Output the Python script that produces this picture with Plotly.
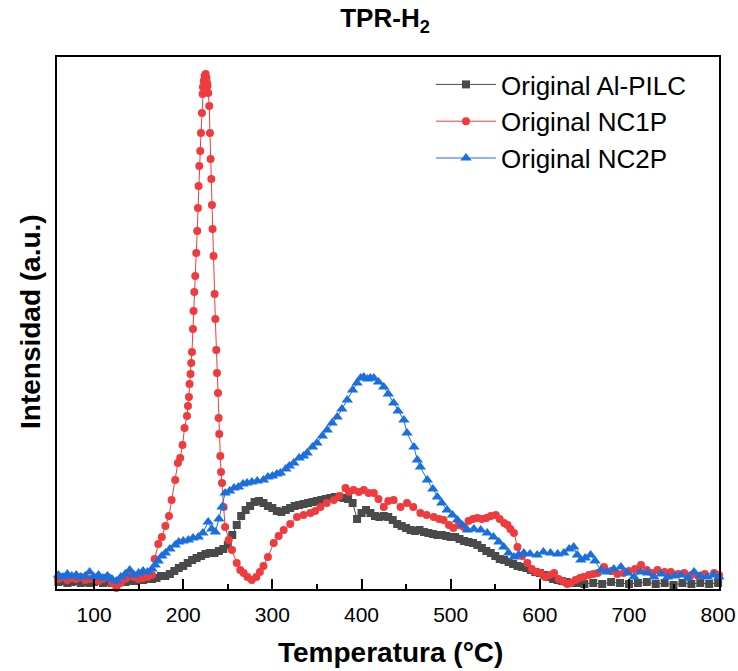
import plotly.graph_objects as go

# --- TPR-H2 profiles (temperature in °C, H2 consumption in a.u.) ---

temp_alpilc = [60, 65, 70, 75, 80, 85, 90, 95, 100, 105, 110, 115, 120, 125, 130, 135, 140, 145,
               150, 155, 160, 165, 170, 175, 180, 185, 190, 195, 200, 205, 210, 215, 220, 225,
               230, 235, 240, 245, 250, 255, 260, 265, 270, 275, 280, 285, 290, 295, 300, 305,
               310, 315, 320, 325, 330, 335, 340, 345, 350, 355, 360, 365, 370, 375, 380, 385,
               390, 395, 400, 405, 410, 415, 420, 425, 430, 435, 440, 445, 450, 455, 460, 465,
               470, 475, 480, 485, 490, 495, 500, 505, 510, 515, 520, 525, 530, 535, 540, 545,
               550, 555, 560, 565, 570, 575, 580, 585, 590, 595, 600, 605, 610, 615, 620, 625,
               630, 635, 640, 645, 650, 660, 670, 680, 690, 700, 710, 720, 730, 740, 750, 760,
               770, 780, 790, 800]
int_alpilc = [7, 8, 6, 7, 8, 6, 7, 6, 7, 8, 6, 7, 6, 7, 8, 7, 8, 8,
              9, 9, 10, 10, 11, 13, 13, 15, 18, 21, 23, 26, 29, 31, 33, 35,
              36, 36, 38, 40, 44, 54, 64, 73, 79, 83, 87, 88, 86, 83, 81, 78,
              77, 79, 81, 83, 84, 85, 86, 87, 88, 89, 90, 91, 92, 92, 91, 90,
              86, 70, 76, 79, 76, 73, 72, 73, 72, 69, 65, 63, 61, 59, 58, 59,
              57, 56, 55, 54, 54, 53, 52, 52, 50, 48, 47, 46, 44, 41, 38, 36,
              33, 30, 29, 27, 25, 23, 22, 21, 19, 17, 16, 14, 12, 10, 9, 8,
              7, 6, 6, 6, 5, 6, 5, 7, 6, 5, 6, 7, 5, 6, 4, 6,
              5, 6, 5, 6]

temp_nc1p = [60, 65, 70, 75, 80, 85, 90, 95, 100, 105, 110, 115, 120, 125, 130, 135, 140, 145,
             150, 155, 160, 165, 168, 172, 176, 180, 184, 187, 191, 194, 196.6, 199.2, 201.5,
             204.2, 205.3, 206.4, 207.1, 208.2, 209.0, 209.8, 210.9, 211.6, 212.4, 213.5, 214.6,
             215.7, 216.5, 217.2, 218.0, 219.1, 219.9, 221.0, 221.7, 222.1, 223.0, 224.0, 224.7,
             225.1, 226.0, 226.8, 227.3, 228.1, 229.2, 230.0, 230.7, 231.5, 232.2, 232.9, 234.0,
             235.2, 236.0, 237.1, 237.9, 239.0, 239.7, 240.4, 241.6, 242.4, 243.5, 245.3, 247,
             251, 254.7, 260, 264, 267.8, 272, 277, 282, 286, 290, 295, 301.5, 307, 312.7, 320,
             327.7, 335, 342.7, 348, 354, 361, 369, 375, 382, 386, 391, 397, 402.6, 408, 413.8,
             419, 425, 430, 436, 443.8, 451, 458, 466, 473, 481, 487, 492, 498, 503, 509, 514.6,
             520, 525, 530, 535, 540, 545, 550.6, 555, 560, 563.7, 567, 571, 575, 580, 586, 591,
             596, 601, 606, 611, 616, 621, 626, 631, 635, 640, 645, 649, 655, 660, 665, 672, 680,
             687, 694, 700, 707, 713.5, 720, 726, 732, 740, 747, 755, 762, 770, 778, 785, 795.5, 801]
int_nc1p = [10, 12, 9, 11, 10, 12, 9, 10, 11, 8, 10, 12, 6, 1, 6, 10, 13, 12,
            10, 11, 12, 14, 30, 45, 52, 63, 73, 89, 109, 126, 131, 144, 161,
            173, 183, 192, 205, 215, 226, 237, 260, 278, 297, 313, 336,
            358, 381, 403, 423, 438, 456, 476, 495, 502, 508, 513, 509,
            515, 511, 506, 503, 496, 483, 456, 430, 410, 384, 360, 333,
            295, 270, 239, 216, 196, 171, 155, 133, 117, 106, 82, 62,
            49, 39, 26, 19, 16, 12, 9, 12, 17, 23, 32, 46, 53, 59, 65,
            72, 74, 76, 78, 82, 86, 89, 93, 101, 97, 99, 97, 99, 96, 96,
            90, 82, 88, 89, 82, 86, 82, 76, 74, 72, 70, 69, 64, 61, 64, 62,
            68, 70, 71, 70, 71, 73, 74, 70, 66, 64, 60, 56, 42, 33, 26, 20,
            17, 16, 12, 14, 16, 10, 8, 5, 6, 9, 11, 12, 14, 15, 16, 22, 18,
            15, 16, 18, 20, 24, 19, 16, 19, 17, 17, 15, 16, 14, 13, 15, 16, 14]

temp_nc2p = [60, 65, 70, 75, 80, 85, 90, 95, 100, 105, 110, 115, 120, 125, 130, 135, 140, 145,
             150, 155, 160, 165, 168.5, 172, 176, 180, 185, 191, 195, 200, 205.8, 211, 217, 222,
             228, 232, 236, 240, 243.5, 247, 252, 257, 262, 267, 271.6, 277, 283, 290, 295, 300,
             305, 309, 315, 319, 324, 330, 335, 339, 345, 350, 356, 361.5, 367, 372.7, 378, 384,
             390, 395, 399, 402.6, 407, 410, 413.8, 419, 425, 430, 436, 441, 447.5, 451, 458.8,
             462.6, 466, 473.8, 480, 485, 490, 496, 502, 507.5, 513, 518.8, 526, 533.7, 541, 548,
             554, 559.6, 565, 571, 576, 582, 589, 597, 604, 612, 620, 627, 633, 638, 642, 646,
             651, 657, 662, 668.5, 675, 683, 691, 698, 705.6, 713, 721, 728, 736, 743.5, 751,
             758.4, 766, 773, 780, 788, 795, 801]
int_nc2p = [14, 12, 15, 13, 14, 12, 13, 17, 12, 14, 11, 13, 10, 8, 12, 15, 19, 14,
            16, 18, 17, 20, 24, 28, 33, 36, 40, 44, 47, 48, 49, 51, 52, 56,
            67, 60, 57, 70, 82, 96, 98, 101, 102, 105, 106, 107, 108, 109, 112, 113,
            115, 116, 120, 123, 126, 131, 133, 136, 142, 146, 153, 159, 166, 172, 180, 189,
            199, 206, 211, 212, 210, 211, 211, 207, 202, 195, 186, 178, 169, 156, 142,
            129, 122, 109, 100, 92, 86, 79, 74, 69, 64, 59, 60, 59, 56, 52,
            47, 42, 36, 32, 34, 36, 35, 34, 37, 36, 35, 36, 40, 42, 34, 29,
            31, 34, 28, 19, 17, 20, 22, 16, 12, 17, 16, 12, 15, 12, 13,
            14, 11, 17, 13, 12, 14, 12]

x_ticks = [100, 200, 300, 400, 500, 600, 700, 800]

series = [
    ("Original Al-PILC", temp_alpilc, int_alpilc, "#4a4a4a", "square", 8),
    ("Original NC1P", temp_nc1p, int_nc1p, "#ef3b3e", "circle", 8),
    ("Original NC2P", temp_nc2p, int_nc2p, "#1a6fdf", "triangle-up", 10),
]

W, H = 738, 671
L, R, T, B = 57, 19, 57, 82
PW, PH = W - L - R, H - T - B

fig = go.Figure()
for name, xs, ys, color, symbol, size in series:
    fig.add_trace(go.Scatter(
        x=xs, y=ys, name=name, mode="lines+markers",
        line=dict(color=color, width=1),
        marker=dict(symbol=symbol, size=size, color=color, line=dict(width=0)),
        cliponaxis=False,
    ))

fig.update_layout(
    width=W, height=H,
    margin=dict(l=L, r=R, t=T, b=B, autoexpand=False),
    paper_bgcolor="white", plot_bgcolor="white",
    font=dict(family="Liberation Sans, Arial, sans-serif", color="black"),
    title=dict(text="<b>TPR-H<sub>2</sub></b>", x=385 / W, xanchor="center",
               y=1 - 18 / H, yanchor="middle", font=dict(size=26, color="black")),
    showlegend=True,
    legend=dict(x=(431 - L) / PW, y=1 - (61 - T) / PH, xanchor="left", yanchor="top",
                font=dict(size=26, color="black"), bgcolor="rgba(0,0,0,0)",
                itemwidth=60, tracegroupgap=0),
    xaxis=dict(range=[58.4, 801], tickvals=x_ticks, ticks="inside", ticklen=10,
               tickwidth=1.5, tickcolor="black", showline=True, linecolor="black",
               linewidth=2, mirror=True, showgrid=False, zeroline=False, automargin=False,
               tickfont=dict(size=21, color="black"), ticklabelstandoff=6,
               minor=dict(ticks="inside", ticklen=5, dtick=50, tick0=50,
                          tickcolor="black", tickwidth=1.5, showgrid=False)),
    yaxis=dict(range=[0, 532], showticklabels=False, ticks="", showline=True,
               linecolor="black", linewidth=2, mirror=True, showgrid=False,
               zeroline=False, automargin=False),
    annotations=[
        dict(text="<b>Temperatura (°C)</b>", xref="paper", yref="paper",
             x=(390 - L) / PW, y=-(652 - (H - B)) / PH, xanchor="center", yanchor="middle",
             showarrow=False, font=dict(size=28, color="black")),
        dict(text="<b>Intensidad (a.u.)</b>", xref="paper", yref="paper",
             x=-(L - 30) / PW, y=((H - B) - 322) / PH, xanchor="center", yanchor="middle",
             textangle=-90, showarrow=False, font=dict(size=28, color="black")),
    ],
)

fig.write_html("out.html")
